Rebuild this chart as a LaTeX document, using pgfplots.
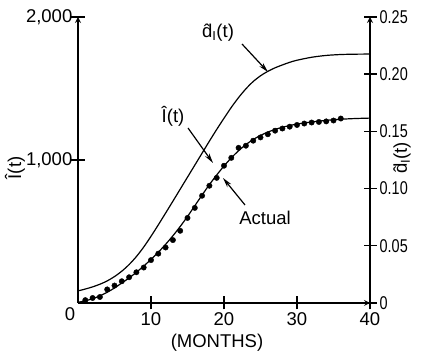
\documentclass[border=0pt]{standalone}
\usepackage{fontspec}
\setmainfont{Liberation Sans}
\newfontfamily\narrowfont[FakeStretch=0.78]{Liberation Sans}
\usepackage{pgfplots}
\pgfplotsset{compat=1.18}
\usetikzlibrary{arrows.meta}
\pgfplotstableread{
t v
0 5
1 15
2 30
3 50
4 75
5 105
6 140
7 175
8 215
9 258
10 305
11 355
12 410
13 470
14 535
15 605
16 680
17 755
18 828
19 895
20 958
21 1015
22 1065
23 1108
24 1143
25 1172
26 1195
27 1214
28 1229
29 1241
30 1251
32 1266
34 1277
36 1285
38 1290
40 1293
}\fitted
\pgfplotstableread{
t v
1 20
2 35
3 42
4 95
5 122
6 152
7 180
8 215
9 248
10 300
11 345
12 388
13 440
14 505
15 595
16 665
17 750
18 820
19 875
20 960
21 1015
22 1085
23 1100
24 1135
25 1158
26 1180
27 1205
28 1220
29 1233
30 1245
31 1255
32 1262
33 1266
34 1270
35 1276
36 1290
}\actual
\pgfplotstableread{
t d
0 0.0106
1 0.0122
2 0.0141
3 0.0164
4 0.0193
5 0.0231
6 0.0278
7 0.0336
8 0.0406
9 0.0489
10 0.0583
11 0.0683
12 0.0786
13 0.0890
14 0.0995
15 0.1100
16 0.1205
17 0.1310
18 0.1415
19 0.1517
20 0.1615
21 0.1710
22 0.1796
23 0.1872
24 0.1936
25 0.1986
26 0.2025
27 0.2056
28 0.2081
29 0.2104
30 0.2122
32 0.2148
34 0.2164
36 0.2172
38 0.2175
40 0.2176
}\dhat
\begin{document}
\fontsize{18.5}{22}\selectfont
\begin{tikzpicture}[x=1pt,y=1pt,font=\fontsize{18.5}{22}\selectfont]
\path[use as bounding box] (0,0) rectangle (429,356);
\pgfplotsset{
  common/.style={
    at={(78pt,53pt)}, anchor=south west,
    scale only axis, width=292pt, height=286pt,
    xmin=0, xmax=40,
    axis line style={line width=1.6pt, -},
    tick align=inside, major tick length=13pt,
    tick style={line width=1.4pt, black},
    tick label style={font=\fontsize{18.5}{22}\selectfont},
    clip=false,
  }
}
\begin{axis}[common,
  ymin=0, ymax=2000,
  axis x line=bottom, axis y line=left,
  xtick={10,20,30,40}, xticklabels={10,20,30,40},
  ytick={1000,2000}, yticklabels={{1,000},{2,000}},
  yticklabel style={anchor=east, inner sep=0pt, xshift=1pt},
  xticklabel style={anchor=north, inner sep=0pt, yshift=-3pt},
]
\addplot[line width=1.2pt, smooth, no marks] table[x=t,y=v] {\fitted};
\addplot[only marks, mark=*, mark size=2.7pt] table[x=t,y=v] {\actual};
\end{axis}
\begin{axis}[common,
  ymin=0, ymax=0.25,
  axis x line=none, axis y line=right,
  ytick={0,0.05,0.10,0.15,0.20,0.25},
  yticklabels={0,0.05,0.10,0.15,0.20,0.25},
  yticklabel style={anchor=west, inner sep=0pt, xshift=3pt, font=\narrowfont\fontsize{18.5}{22}\selectfont},
]
\addplot[line width=1.2pt, smooth, no marks] table[x=t,y=d] {\dhat};
\end{axis}
\node[inner sep=0pt] at (70,42) {0};
\node[inner sep=0pt] at (217,13) {(MONTHS)};
\node[inner sep=0pt, rotate=90] at (15,188) {\^{I}(t)};
\node[inner sep=0pt, rotate=90] at (402,198) {\^{d}\textsubscript{I}(t)};
\node[inner sep=0pt] at (218,323) {\^{d}\textsubscript{I}(t)};
\node[inner sep=0pt] at (173,240) {\^{I}(t)};
\node[inner sep=0pt] at (265,138) {Actual};
\draw[line width=1.2pt, -{Stealth[length=10pt,width=5pt]}] (242,312) -- (268,284);
\draw[line width=1.2pt, -{Stealth[length=10pt,width=5pt]}] (188,228) -- (213,193);
\draw[line width=1.2pt, -{Stealth[length=10pt,width=5pt]}] (245,151) -- (223,178);
\end{tikzpicture}
\end{document}
